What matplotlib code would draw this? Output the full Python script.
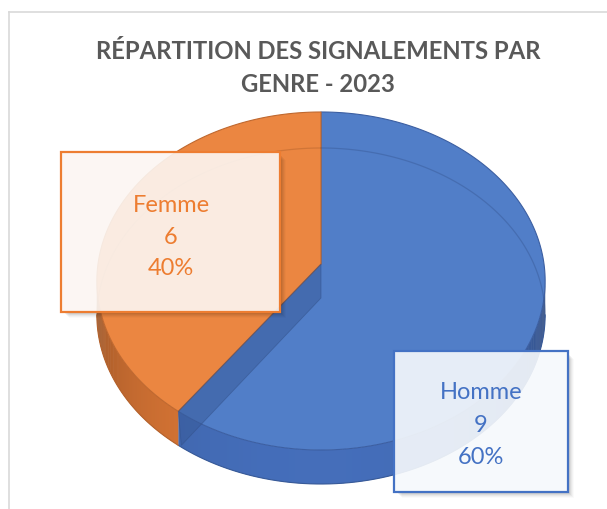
import numpy as np
import matplotlib.pyplot as plt
from matplotlib.patches import Polygon, Rectangle
from matplotlib.lines import Line2D

# ========================
# DATA
# ========================
labels = ["Homme", "Femme"]
counts = [9, 6]
top_colors = ["#517EC8", "#EB8641"]
side_colors = [(70, 112, 190), (225, 122, 55)]
text_colors = ["#4472C4", "#ED7D31"]
box_fills = [(0.965, 0.975, 0.99), (0.99, 0.965, 0.95)]
title_lines = ["RÉPARTITION DES SIGNALEMENTS PAR", "GENRE - 2023"]

# ========================
# LAYOUT (pixel space, y downwards)
# ========================
W, H, DPI = 607, 510, 100
CX, CY = 321, 265          # projected centre of the top face
A, B, P = 167.3, 223.0, 0.1006   # vertical / horizontal scale, perspective
DEPTH = 34                 # thickness of the pie
FONT = "Lato"

# label boxes: x0, y0, x1, y1 and text centre / baselines
boxes = {
    "Homme": dict(rect=(394, 352, 568, 493), cx=481, base=[399, 432, 464]),
    "Femme": dict(rect=(61, 153, 280, 313), cx=171, base=[212, 244, 275]),
}


def proj(t_deg, r=1.0, h=0.0):
    t = np.radians(t_deg)
    u = r * np.sin(t)
    v = r * np.cos(t)
    d = 1 + P * v
    return CX + B * u / d, CY - A * v / d + h


def shade(rgb, f):
    return tuple(min(1, c / 255 * f) for c in rgb)


fig = plt.figure(figsize=(W / DPI, H / DPI), dpi=DPI)
fig.patch.set_facecolor("white")
ax = fig.add_axes([0, 0, 1, 1])
ax.set_xlim(0, W)
ax.set_ylim(H, 0)
ax.set_axis_off()

# chart frame (only top and left edges are inside the picture)
ax.add_line(Line2D([9, W + 5], [13, 13], color="#D9D9D9", lw=1.2))
ax.add_line(Line2D([9, 9], [13, H + 5], color="#D9D9D9", lw=1.2))

total = sum(counts)
fracs = [c / total for c in counts]
starts = np.concatenate([[0], np.cumsum(fracs)[:-1]]) * 360
ends = np.cumsum(fracs) * 360

# silhouette angles (side visible between them)
sil = np.degrees(np.arccos(-P))
vis_lo, vis_hi = sil, 360 - sil

# ---- side walls with gradient shading
for i in range(len(counts)):
    a, b = max(starts[i], vis_lo), min(ends[i], vis_hi)
    if a >= b:
        continue
    edges = np.linspace(a, b, int((b - a) * 2) + 2)
    for t0, t1 in zip(edges[:-1], edges[1:]):
        tt = np.linspace(t0, min(t1 + 0.4, b), 4)
        xs, ys = proj(tt)
        xb, yb = proj(tt[::-1], h=DEPTH)
        s = max(0.0, -np.cos(np.radians((t0 + t1) / 2)))
        f = 0.5 + 0.48 * s ** 0.55
        col = shade(side_colors[i], f)
        ax.add_patch(Polygon(np.column_stack([np.r_[xs, xb], np.r_[ys, yb]]),
                             closed=True, facecolor=col, edgecolor="none",
                             zorder=1))
    # bottom rim line
    tt = np.linspace(a, b, 80)
    xb, yb = proj(tt, h=DEPTH)
    ax.plot(xb, yb, color=shade(side_colors[i], 0.8), lw=0.8, zorder=1.5)

# ---- top faces
for i in range(len(counts)):
    tt = np.linspace(starts[i], ends[i], 200)
    xs, ys = proj(tt)
    pts = np.column_stack([np.r_[CX, xs], np.r_[CY, ys]])
    ax.add_patch(Polygon(pts, closed=True, facecolor=top_colors[i],
                         edgecolor=shade(side_colors[i], 0.85), lw=0.8,
                         zorder=2))

# ---- back bottom edge seen through the translucent top
for i in range(len(counts)):
    for lo, hi in [(0, vis_lo), (vis_hi, 360)]:
        a, b = max(starts[i], lo), min(ends[i], hi)
        if a >= b:
            continue
        tt = np.linspace(a, b, 100)
        xb, yb = proj(tt, h=DEPTH + 2)
        ax.plot(xb, yb, color=shade(side_colors[i], 0.75), lw=0.9,
                alpha=0.4, zorder=2.5)

# ---- radial face of the first slice at its end, seen through the top
t_end = ends[0]
ex, ey = proj(t_end)
face = [(CX, CY), (ex, ey), (ex + 3, ey + DEPTH), (CX, CY + DEPTH)]
ax.add_patch(Polygon(face, closed=True, facecolor=shade(side_colors[0], 0.8),
                     edgecolor=shade(side_colors[0], 0.7), lw=0.6,
                     alpha=0.5, zorder=3))

# ---- label boxes
for i, name in enumerate(labels):
    bx = boxes[name]
    x0, y0, x1, y1 = bx["rect"]
    # soft shadow to the lower right, outside the box only
    for k, al in zip(range(1, 7), [0.07, 0.06, 0.05, 0.04, 0.03, 0.02]):
        sh = [(x1, y0 + k + 2), (x1 + k, y0 + k + 2), (x1 + k, y1 + k),
              (x0 + k + 2, y1 + k), (x0 + k + 2, y1), (x1, y1)]
        ax.add_patch(Polygon(sh, closed=True, facecolor="black",
                             edgecolor="none", alpha=al, zorder=4))
    ax.add_patch(Rectangle((x0, y0), x1 - x0, y1 - y0,
                           facecolor=box_fills[i], alpha=0.91,
                           edgecolor="none", zorder=5))
    ax.add_patch(Rectangle((x0, y0), x1 - x0, y1 - y0, facecolor="none",
                           edgecolor=text_colors[i], lw=1.6, zorder=6))
    lines = [name, f"{counts[i]}", f"{round(fracs[i] * 100)}%"]
    for txt, yb in zip(lines, bx["base"]):
        ax.text(bx["cx"], yb, txt, ha="center", va="baseline",
                fontsize=17, family=FONT, color=text_colors[i], zorder=7)

# ---- title
for txt, yb in zip(title_lines, [59, 92]):
    ax.text(318, yb, txt, ha="center", va="baseline", fontsize=17.2,
            fontweight="bold", family=FONT, color="#595959")

fig.savefig("out.png", dpi=DPI, facecolor="white")
